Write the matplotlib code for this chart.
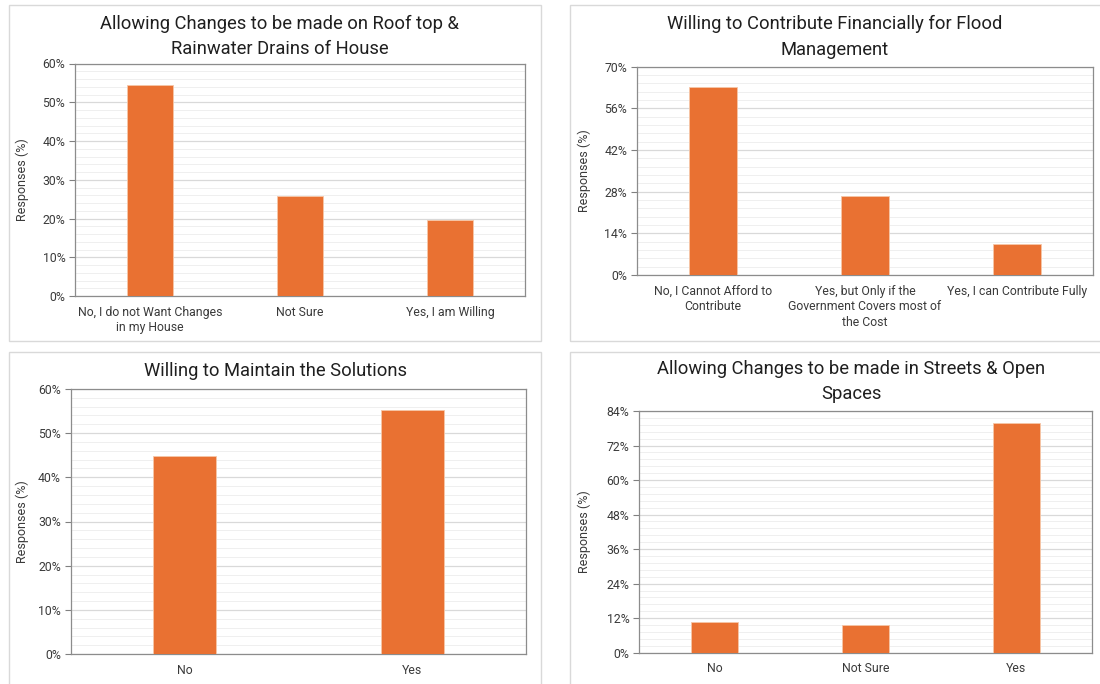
import numpy as np
import matplotlib
matplotlib.use('Agg')
import matplotlib.pyplot as plt
from matplotlib.patches import Rectangle
from matplotlib.ticker import MultipleLocator, FuncFormatter

plt.rcParams.update({'font.family': ['Roboto', 'DejaVu Sans'],
                     'font.size': 9})

# survey responses (%)
roof_cats = ['No, I do not Want Changes\nin my House', 'Not Sure', 'Yes, I am Willing']
roof_vals = [54.5, 25.9, 19.6]

finance_cats = ['No, I Cannot Afford to\nContribute',
                'Yes, but Only if the\nGovernment Covers most of\nthe Cost',
                'Yes, I can Contribute Fully']
finance_vals = [63.3, 26.4, 10.3]

maintain_cats = ['No', 'Yes']
maintain_vals = [44.8, 55.2]

streets_cats = ['No', 'Not Sure', 'Yes']
streets_vals = [10.8, 9.5, 79.7]

W, H = 1100, 684
fig = plt.figure(figsize=(W / 100, H / 100), dpi=100)
fig.patch.set_facecolor('white')

ORANGE = '#E97132'
TICK = '#3a3a3a'
TITLE = '#1f1f1f'


def px_rect(l, t, r, b):
    return [l / W, 1 - b / H, (r - l) / W, (b - t) / H]


def frame(l, t, r, b):
    fig.patches.append(Rectangle((l / W, 1 - b / H), (r - l) / W, (b - t) / H,
                                 transform=fig.transFigure, fill=False,
                                 edgecolor='#d9d9d9', linewidth=1.0))


def panel(rect, cats, vals, top, step, width, title, title_xy, ylab_x):
    ax = fig.add_axes(px_rect(*rect))
    x = np.arange(len(cats))
    ax.bar(x, vals, width=width, color=ORANGE, edgecolor='#f6c7a8',
           linewidth=0.6, zorder=3)
    ax.set_xlim(-0.5, len(cats) - 0.5)
    ax.set_ylim(0, top)
    ax.yaxis.set_major_locator(MultipleLocator(step))
    ax.yaxis.set_minor_locator(MultipleLocator(step / 5))
    ax.yaxis.set_major_formatter(FuncFormatter(lambda v, p: f'{v:.0f}%'))
    ax.grid(axis='y', which='major', color='#d9d9d9', linewidth=0.9, zorder=0)
    ax.grid(axis='y', which='minor', color='#efefef', linewidth=0.7, zorder=0)
    ax.set_xticks(x)
    ax.set_xticklabels(cats, fontsize=8.8, color=TICK, linespacing=1.25)
    ax.tick_params(axis='x', length=0, pad=7)
    ax.tick_params(axis='y', which='major', length=4, color='#808080',
                   labelsize=8.8, labelcolor=TICK, pad=3)
    ax.tick_params(axis='y', which='minor', length=0)
    for s in ax.spines.values():
        s.set_color('#8c8c8c')
        s.set_linewidth(0.9)
    fig.text(ylab_x / W, 1 - (rect[1] + rect[3]) / 2 / H, 'Responses (%)',
             rotation=90, ha='center', va='center', fontsize=9, color=TICK)
    fig.text(title_xy[0] / W, 1 - title_xy[1] / H, title, ha='center',
             va='center', fontsize=13.2, color=TITLE, linespacing=1.55)
    return ax


frame(9, 5, 541, 341)
frame(570, 5, 1108, 341)
frame(9, 352, 541, 690)
frame(570, 352, 1108, 690)

panel((75, 63.5, 525, 296), roof_cats, roof_vals, 60, 10, 0.31,
      'Allowing Changes to be made on Roof top &\nRainwater Drains of House',
      (280, 36.5), 22)
panel((637, 66.7, 1093, 275), finance_cats, finance_vals, 70, 14, 0.31,
      'Willing to Contribute Financially for Flood\nManagement',
      (835, 37), 584)
panel((70.5, 389, 526, 654), maintain_cats, maintain_vals, 60, 10, 0.277,
      'Willing to Maintain the Solutions', (275, 371), 22)
panel((639, 411, 1092, 652.7), streets_cats, streets_vals, 84, 12, 0.31,
      'Allowing Changes to be made in Streets & Open\nSpaces',
      (851, 381.5), 584)

fig.savefig('out.png', dpi=100, facecolor='white')
